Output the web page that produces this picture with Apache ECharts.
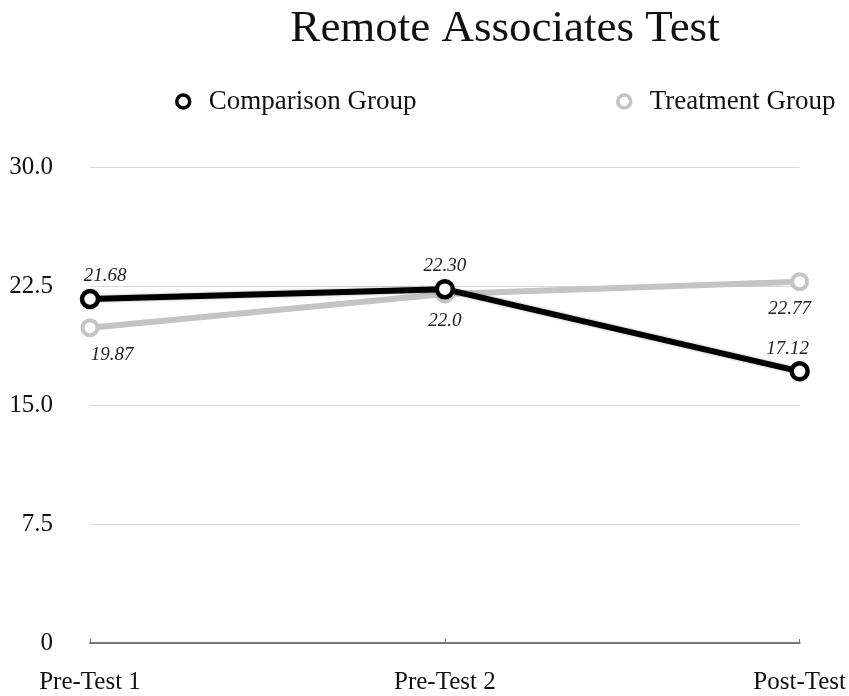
<!DOCTYPE html>
<html>
<head>
<meta charset="utf-8">
<script src="https://cdn.jsdelivr.net/npm/echarts@6/dist/echarts.min.js"></script>
<style>
html,body{margin:0;padding:0;background:#fff;}
#chart{width:849px;height:696px;}
</style>
</head>
<body>
<div id="chart"></div>
<script type="text/javascript">
// data
var categories = ['Pre-Test 1', 'Pre-Test 2', 'Post-Test'];
var comparison = [21.68, 22.30, 17.12];
var treatment = [19.87, 22.0, 22.77];
var comparisonLabels = ['21.68', '22.30', '17.12'];
var treatmentLabels = ['19.87', '22.0', '22.77'];

var serif = 'Liberation Serif';
var labelStyle = {fontFamily: serif, fontStyle: 'italic', fontSize: 19, color: '#222'};
var legendText = {fontFamily: serif, fontSize: 27, color: '#111'};

var chart = echarts.init(document.getElementById('chart'));
chart.setOption({
    animation: false,
    title: {
        text: 'Remote Associates Test',
        left: 500,
        top: 2,
        textAlign: 'center',
        textStyle: {fontFamily: serif, fontWeight: 'normal', fontSize: 45, color: '#111'}
    },
    legend: [{
        data: ['Comparison Group'],
        left: 170,
        top: 83,
        icon: 'circle',
        itemWidth: 13,
        itemHeight: 13,
        itemGap: 0,
        itemStyle: {color: '#fff', borderColor: '#000', borderWidth: 3.5},
        textStyle: Object.assign({padding: [0, 0, 0, 14]}, legendText)
    }, {
        data: ['Treatment Group'],
        left: 611,
        top: 83,
        icon: 'circle',
        itemWidth: 13,
        itemHeight: 13,
        itemStyle: {color: '#fff', borderColor: '#c4c4c4', borderWidth: 3.5},
        textStyle: Object.assign({padding: [0, 0, 0, 14]}, legendText)
    }],
    grid: {left: 90, right: 49, top: 167, bottom: 53},
    xAxis: {
        type: 'category',
        data: categories,
        boundaryGap: false,
        axisLine: {lineStyle: {color: '#777', width: 2}},
        axisTick: {alignWithLabel: true, length: 4, inside: true, lineStyle: {color: '#777'}},
        axisLabel: {fontFamily: serif, fontSize: 25, color: '#111', margin: 27}
    },
    yAxis: {
        type: 'value',
        min: 0,
        max: 30,
        interval: 7.5,
        axisLine: {show: false},
        axisTick: {show: false},
        splitLine: {lineStyle: {color: '#d8d8d8', width: 1}},
        axisLabel: {
            fontFamily: serif, fontSize: 25, color: '#111', align: 'right', margin: 37,
            formatter: function (v) { return v === 0 ? '0' : v.toFixed(1); }
        }
    },
    series: [{
        name: 'Treatment Group',
        type: 'line',
        data: treatment.map(function (v, i) {
            var off = [[22, 0], [0, 0], [-10, 0]][i];
            return {value: v, label: {offset: off}};
        }),
        symbol: 'circle',
        symbolSize: 15,
        color: '#c4c4c4',
        lineStyle: {width: 6, color: '#c4c4c4'},
        itemStyle: {borderWidth: 4, borderColor: '#c4c4c4', color: '#fff'},
        label: Object.assign({
            show: true, position: 'bottom', distance: 8,
            formatter: function (p) { return treatmentLabels[p.dataIndex]; }
        }, labelStyle)
    }, {
        name: 'Comparison Group',
        type: 'line',
        data: comparison.map(function (v, i) {
            var off = [[15, 0], [0, 0], [-12, 0]][i];
            return {value: v, label: {offset: off}};
        }),
        symbol: 'circle',
        symbolSize: 16,
        color: '#000',
        lineStyle: {width: 6, color: '#000', shadowColor: 'rgba(0,0,0,0.3)', shadowBlur: 3},
        itemStyle: {borderWidth: 4.5, borderColor: '#000', color: '#fff'},
        label: Object.assign({
            show: true, position: 'top', distance: 3,
            formatter: function (p) { return comparisonLabels[p.dataIndex]; }
        }, labelStyle)
    }]
});
</script>
</body>
</html>
